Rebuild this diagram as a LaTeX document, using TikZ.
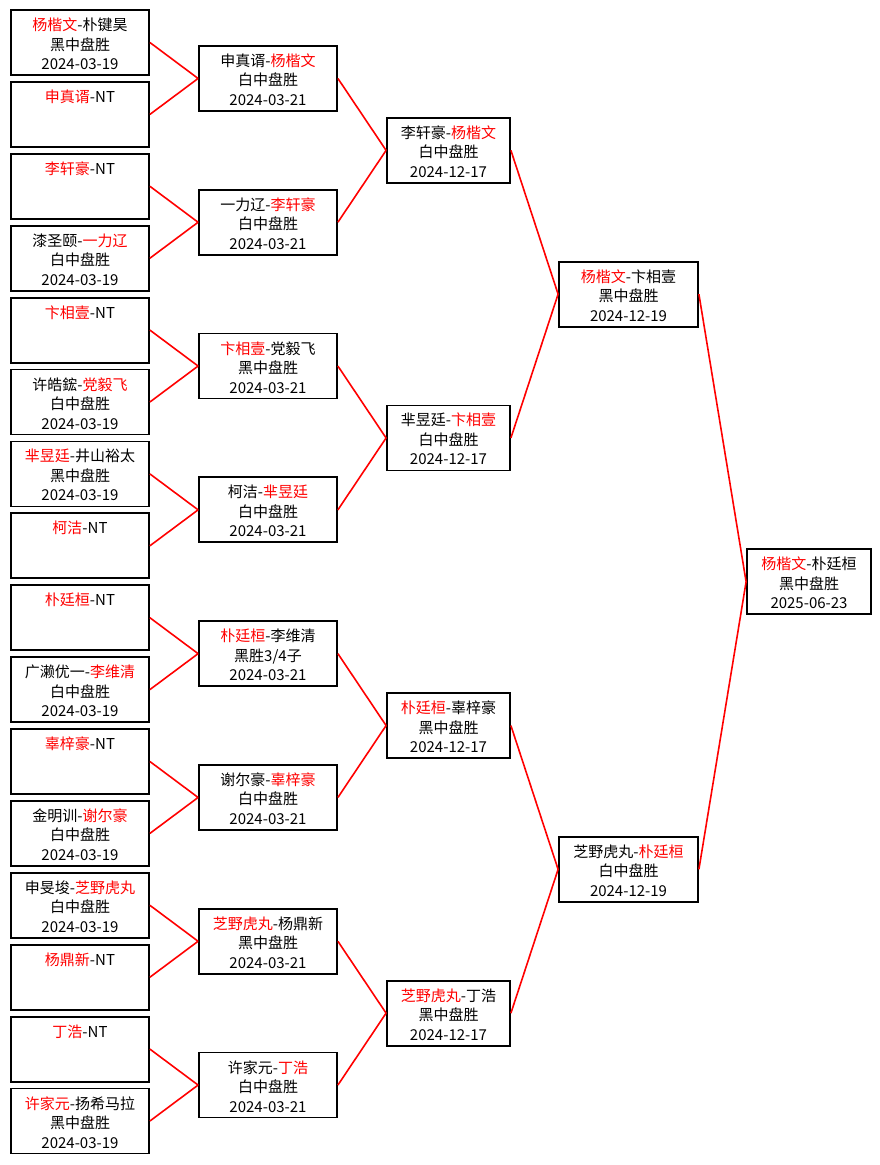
\documentclass[tikz,border=0pt]{standalone}
\usepackage{fontspec}
\setmainfont{Noto Sans CJK SC}
\usepackage{tikz}
\newcommand*{\won}[1]{\textcolor{red}{#1}}
\newcommand*{\game}[3]{\rule{0pt}{17pt}#1\\\strut#2\\#3\rule[-2pt]{0pt}{2pt}}

\begin{document}
\begin{tikzpicture}[x=1pt, y=-1pt,
    match/.style={draw, line width=1.8pt, minimum height=65pt, inner sep=0pt,
      align=center, font=\fontsize{15}{19.5}\selectfont},
    link/.style={red, line width=1.6pt}]
  \fill[white] (0,0) rectangle (880,1165);
  \useasboundingbox (0,0) rectangle (880,1165);

  % round 1
  \foreach \i/\who/\how/\when in {
      0/{\won{杨楷文}-朴键昊}/黑中盘胜/2024-03-19,
      1/{\won{申真谞}-NT}/{}/{},
      2/{\won{李轩豪}-NT}/{}/{},
      3/{漆圣颐-\won{一力辽}}/白中盘胜/2024-03-19,
      4/{\won{卞相壹}-NT}/{}/{},
      5/{许皓鋐-\won{党毅飞}}/白中盘胜/2024-03-19,
      6/{\won{芈昱廷}-井山裕太}/黑中盘胜/2024-03-19,
      7/{\won{柯洁}-NT}/{}/{},
      8/{\won{朴廷桓}-NT}/{}/{},
      9/{广濑优一-\won{李维清}}/白中盘胜/2024-03-19,
      10/{\won{辜梓豪}-NT}/{}/{},
      11/{金明训-\won{谢尔豪}}/白中盘胜/2024-03-19,
      12/{申旻埈-\won{芝野虎丸}}/白中盘胜/2024-03-19,
      13/{\won{杨鼎新}-NT}/{}/{},
      14/{\won{丁浩}-NT}/{}/{},
      15/{\won{许家元}-扬希马拉}/黑中盘胜/2024-03-19}
  {
    \node[match, minimum width=138pt] (a\i) at (80, 42.5+71.9*\i)
      {\game{\who}{\how}{\when}};
  }

  % round 2
  \foreach \j/\who/\how/\when in {
      0/{申真谞-\won{杨楷文}}/白中盘胜/2024-03-21,
      1/{一力辽-\won{李轩豪}}/白中盘胜/2024-03-21,
      2/{\won{卞相壹}-党毅飞}/黑中盘胜/2024-03-21,
      3/{柯洁-\won{芈昱廷}}/白中盘胜/2024-03-21,
      4/{\won{朴廷桓}-李维清}/{黑胜3/4子}/2024-03-21,
      5/{谢尔豪-\won{辜梓豪}}/白中盘胜/2024-03-21,
      6/{\won{芝野虎丸}-杨鼎新}/黑中盘胜/2024-03-21,
      7/{许家元-\won{丁浩}}/白中盘胜/2024-03-21}
  {
    \node[match, minimum width=138pt] (b\j) at (268, 78.45+143.8*\j)
      {\game{\who}{\how}{\when}};
  }

  % round 3
  \foreach \k/\who/\how/\when in {
      0/{李轩豪-\won{杨楷文}}/白中盘胜/2024-12-17,
      1/{芈昱廷-\won{卞相壹}}/白中盘胜/2024-12-17,
      2/{\won{朴廷桓}-辜梓豪}/黑中盘胜/2024-12-17,
      3/{\won{芝野虎丸}-丁浩}/黑中盘胜/2024-12-17}
  {
    \node[match, minimum width=123pt] (c\k) at (448.5, 150.35+287.6*\k)
      {\game{\who}{\how}{\when}};
  }

  % semi-final and final
  \node[match, minimum width=139pt] (d0) at (628.5, 294.15)
    {\game{\won{杨楷文}-卞相壹}{黑中盘胜}{2024-12-19}};
  \node[match, minimum width=139pt] (d1) at (628.5, 869.35)
    {\game{芝野虎丸-\won{朴廷桓}}{白中盘胜}{2024-12-19}};
  \node[match, minimum width=124pt] (e) at (809, 581.75)
    {\game{\won{杨楷文}-朴廷桓}{黑中盘胜}{2025-06-23}};

  % links
  \foreach \j in {0, ..., 7}
  {
    \pgfmathtruncatemacro\ka{2*\j}
    \pgfmathtruncatemacro\kb{2*\j+1}
    \draw[link] (a\ka.east) -- (b\j.west) (a\kb.east) -- (b\j.west);
  }
  \foreach \k in {0, ..., 3}
  {
    \pgfmathtruncatemacro\ka{2*\k}
    \pgfmathtruncatemacro\kb{2*\k+1}
    \draw[link] (b\ka.east) -- (c\k.west) (b\kb.east) -- (c\k.west);
  }
  \draw[link]
    (c0.east) -- (d0.west)
    (c1.east) -- (d0.west)
    (c2.east) -- (d1.west)
    (c3.east) -- (d1.west);
  \draw[link]
    (d0.east) -- (e.west)
    (d1.east) -- (e.west);
\end{tikzpicture}
\end{document}
